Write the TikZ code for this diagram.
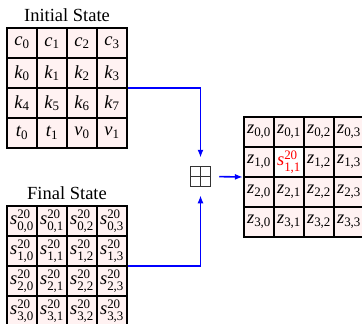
\documentclass[tikz,border=0pt]{standalone}
\usepackage{fontspec}
\setmainfont{Liberation Serif}
\usepackage{amsmath}
\usetikzlibrary{arrows.meta,fit}
\newcommand{\cv}[2]{$\textit{#1}_{\text{#2}}$}
\newcommand{\sv}[1]{$\textit{s}^{\text{20}}_{\text{#1}}$}
\tikzset{
  cellbox/.style={draw=black, line width=1.8pt, fill=red!5, minimum size=30pt, inner sep=0pt, anchor=center},
  hicell/.style={cellbox, fill=white, text=red},
  gridbox/.style={inner sep=0pt, draw=none},
  titletext/.style={anchor=base, inner sep=0pt},
  flow/.style={draw=blue, line width=1.6pt, -{Latex[length=8pt,width=6pt]}},
  plusbox/.style={draw=black!80, line width=1.5pt, minimum size=20pt, inner sep=0pt,
    path picture={\draw[black!80, line width=1.5pt]
      (path picture bounding box.north) -- (path picture bounding box.south)
      (path picture bounding box.west) -- (path picture bounding box.east);}}
}
\begin{document}
\begin{tikzpicture}[x=1pt, y=-1pt, font=\fontsize{18.5}{22}\selectfont]
\useasboundingbox (0,0) rectangle (362,324);
% titles
\node[titletext] (t1) at (67,21) {Initial State};
\node[titletext] (t2) at (67,199) {Final State};
% initial grid
\foreach \b/\s [count=\k from 0] in {c/0,c/1,c/2,c/3,k/0,k/1,k/2,k/3,k/4,k/5,k/6,k/7,t/0,t/1,v/0,v/1}{
  \pgfmathtruncatemacro\r{\k/4}
  \pgfmathtruncatemacro\c{\k-4*\r}
  \node[cellbox] (i-\r-\c) at (22+30*\c, 43+30*\r) {\cv{\b}{\s}};
}
% final grid
\foreach \r in {0,...,3}{
  \foreach \c in {0,...,3}{
    \node[cellbox] (f-\r-\c) at (22+30*\c, 221+30*\r) {\sv{\r,\c}};
  }
}
% result grid
\foreach \r in {0,...,3}{
  \foreach \c in {0,...,3}{
    \ifnum\r\c=11
      \node[hicell] (z-\r-\c) at (259+30*\c, 132+30*\r) {\sv{\r,\c}};
    \else
      \node[cellbox] (z-\r-\c) at (259+30*\c, 132+30*\r) {\cv{z}{\r,\c}};
    \fi
  }
}
\node[gridbox, fit=(i-0-0)(i-3-3)] (init) {};
\node[gridbox, fit=(f-0-0)(f-3-3)] (final) {};
\node[gridbox, fit=(z-0-0)(z-3-3)] (res) {};
% boxplus
\node[plusbox] (plus) at (200.5,176.5) {};
% connectors
\draw[flow, shorten >=8pt] (init.east) -| (plus.north);
\draw[flow, shorten >=8pt] (final.east) -| (plus.south);
\draw[flow, shorten <=8pt] (plus.east) -- (res.west);
\end{tikzpicture}
\end{document}
